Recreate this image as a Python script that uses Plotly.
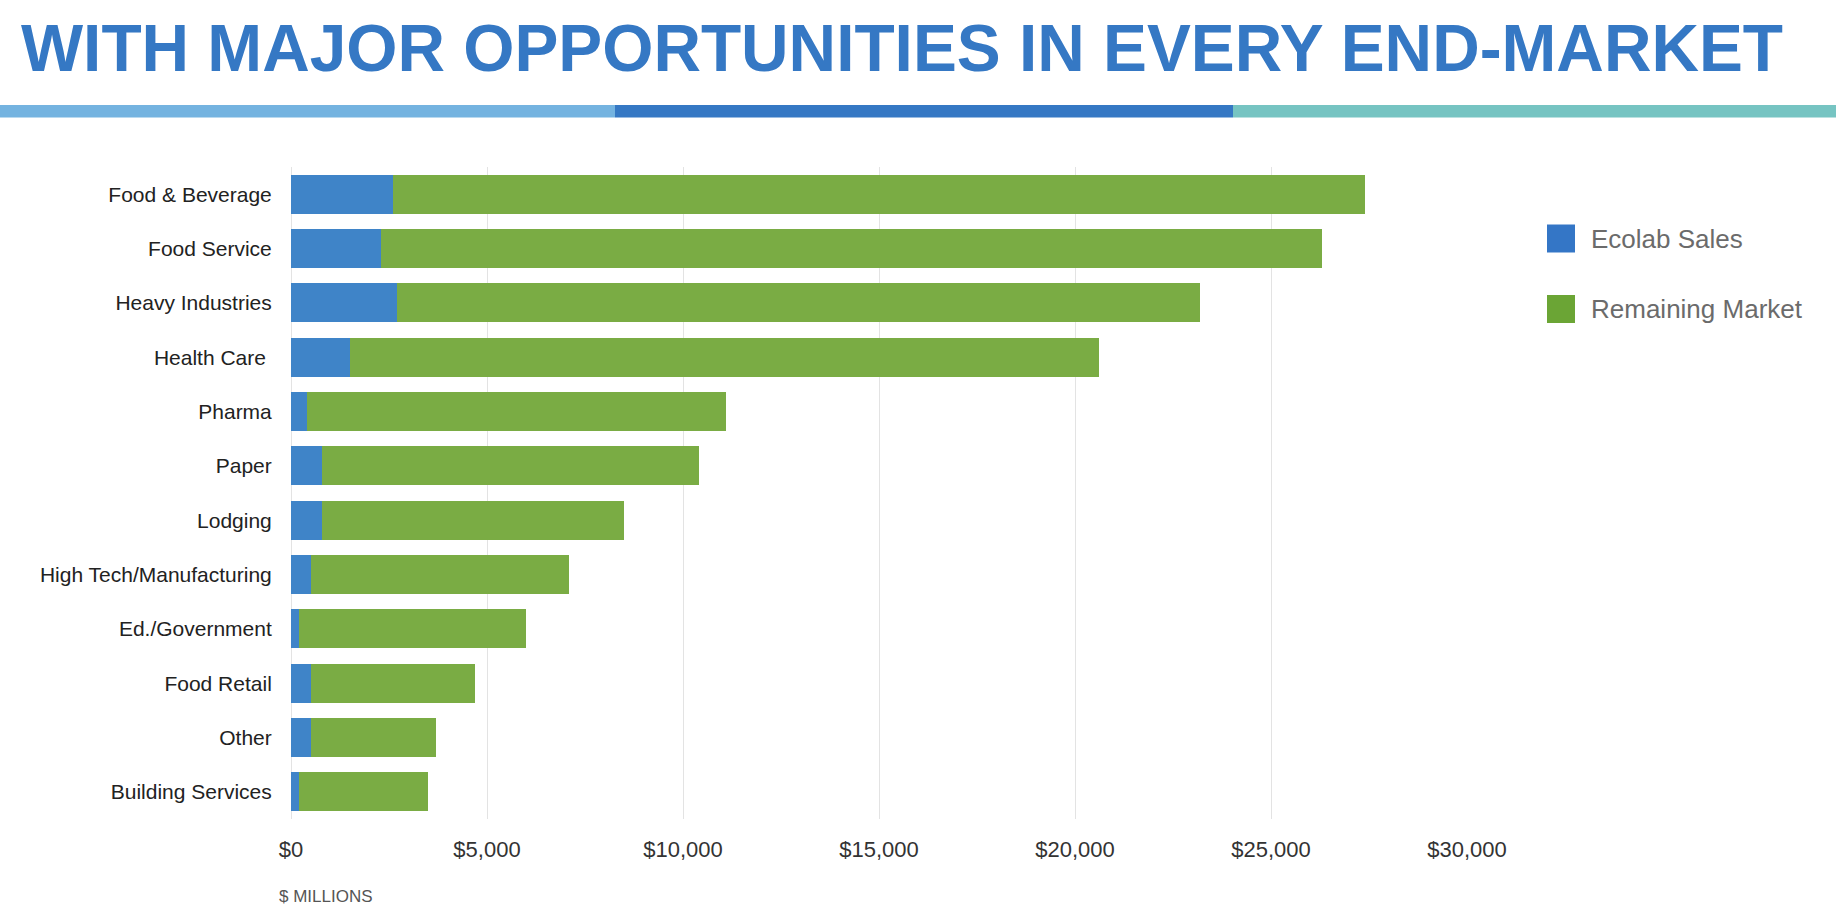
import plotly.graph_objects as go

categories = ["Food & Beverage", "Food Service", "Heavy Industries", "Health Care\u00a0",
              "Pharma", "Paper", "Lodging", "High Tech/Manufacturing",
              "Ed./Government", "Food Retail", "Other", "Building Services"]
ecolab_sales = [2600, 2300, 2700, 1500, 400, 800, 800, 500, 200, 500, 500, 200]
total_market = [27400, 26300, 23200, 20600, 11100, 10400, 8500, 7100, 6000, 4700, 3700, 3500]
remaining_market = [t - e for t, e in zip(total_market, ecolab_sales)]
series_names = ["Ecolab Sales", "Remaining Market"]
x_tick_values = [0, 5000, 10000, 15000, 20000, 25000, 30000]
x_tick_labels = ["$0", "$5,000", "$10,000", "$15,000", "$20,000", "$25,000", "$30,000"]

W, H = 1836, 914
L, R, T, B = 291, 1467, 167, 819
FONT = "Liberation Sans, Arial, sans-serif"


def px(x):
    return (x - L) / (R - L)


def py(y):
    return (B - y) / (B - T)


fig = go.Figure()
fig.add_trace(go.Bar(y=categories, x=ecolab_sales, orientation="h", name=series_names[0],
                     marker=dict(color="#3F84C8", line=dict(width=0)), showlegend=False))
fig.add_trace(go.Bar(y=categories, x=remaining_market, orientation="h", name=series_names[1],
                     marker=dict(color="#7AAC44", line=dict(width=0)), showlegend=False))

shapes = []
# header stripe
for x0, x1, col in [(0, 615, "#74B3E0"), (615, 1233, "#3578C4"), (1233, 1836, "#76C4C2")]:
    shapes.append(dict(type="rect", xref="paper", yref="paper", x0=px(x0), x1=px(x1),
                       y0=py(117.5), y1=py(105), fillcolor=col, line=dict(width=0), layer="above"))
# legend squares
legend_cols = ["#3476C6", "#6BA535"]
legend_y = [238.5, 309]
annotations = []
for name, col, yc in zip(series_names, legend_cols, legend_y):
    shapes.append(dict(type="rect", xref="paper", yref="paper", x0=px(1547), x1=px(1575),
                       y0=py(yc + 14), y1=py(yc - 14), fillcolor=col, line=dict(width=0)))
    annotations.append(dict(text=name, xref="paper", yref="paper", x=px(1589), y=py(yc),
                            xanchor="left", yanchor="middle", showarrow=False,
                            font=dict(family=FONT, size=26, color="#6B6B6B")))

annotations.append(dict(text="<b>WITH MAJOR OPPORTUNITIES IN EVERY END-MARKET</b>",
                        xref="paper", yref="paper", x=px(19), y=py(48),
                        xanchor="left", yanchor="middle", showarrow=False,
                        font=dict(family=FONT, size=65.8, color="#3578C4")))
annotations.append(dict(text="$ MILLIONS", xref="paper", yref="paper", x=px(277), y=py(896),
                        xanchor="left", yanchor="middle", showarrow=False,
                        font=dict(family=FONT, size=17, color="#555555")))

fig.update_layout(
    width=W, height=H,
    margin=dict(l=L, r=W - R, t=T, b=H - B, pad=0),
    paper_bgcolor="white", plot_bgcolor="white",
    barmode="stack", bargap=0.288,
    shapes=shapes, annotations=annotations,
    font=dict(family=FONT),
    xaxis=dict(range=[0, 30000], tickmode="array", tickvals=x_tick_values, ticktext=x_tick_labels,
               showgrid=True, gridcolor="#E3E3E3", gridwidth=1,
               zeroline=True, zerolinecolor="#E3E3E3", zerolinewidth=1,
               showline=False, ticks="outside", ticklen=11, tickcolor="rgba(0,0,0,0)",
               tickfont=dict(family=FONT, size=22, color="#333333")),
    yaxis=dict(autorange="reversed", showgrid=False, zeroline=False, showline=False,
               ticks="outside", ticklen=14, tickcolor="rgba(0,0,0,0)",
               tickfont=dict(family=FONT, size=21, color="#222222")),
)

fig.write_html("out.html")
